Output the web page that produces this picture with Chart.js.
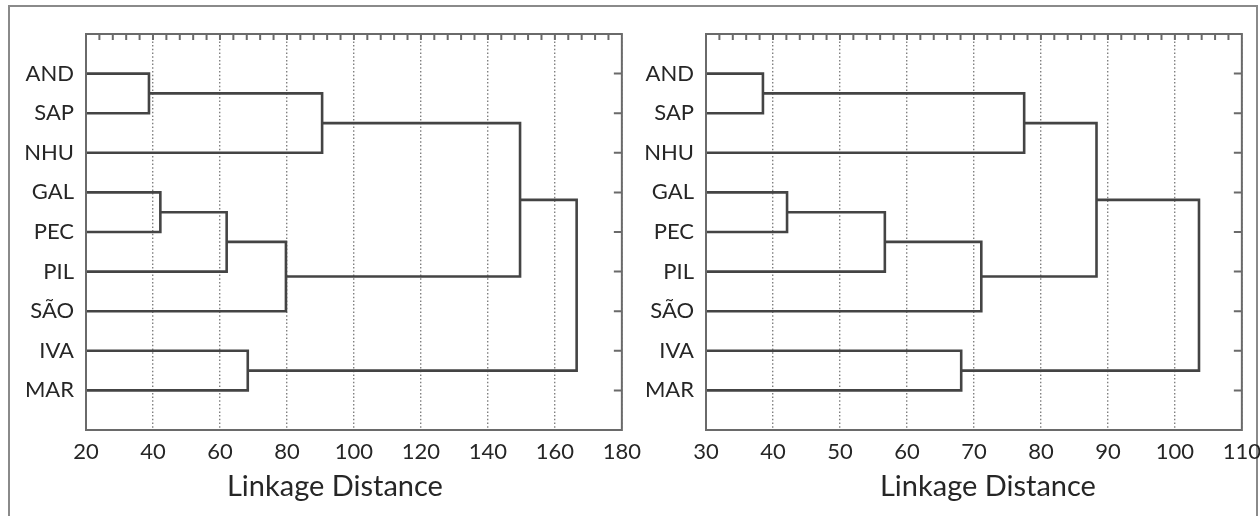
<!DOCTYPE html>
<html>
<head>
<meta charset="utf-8">
<script src="https://cdn.jsdelivr.net/npm/chart.js@4.4.1/dist/chart.umd.min.js"></script>
<style>
  html, body { margin: 0; padding: 0; background: #fff; }
  body { width: 1260px; height: 516px; position: relative; overflow: hidden; }
  #frame { position: absolute; left: 8px; top: 5px; width: 1250px; height: 520px; border: 2px solid #8a8a8a; box-sizing: border-box; }
  .panel { position: absolute; top: 0; width: 650px; height: 516px; }
  #leftPanel { left: 0; }
  #rightPanel { left: 620px; }
</style>
</head>
<body>
<div id="frame"></div>
<div class="panel" id="leftPanel"><canvas id="leftChart" width="650" height="516"></canvas></div>
<div class="panel" id="rightPanel"><canvas id="rightChart" width="650" height="516"></canvas></div>
<script>
// leaves, top to bottom
const leafNames = ['AND', 'SAP', 'NHU', 'GAL', 'PEC', 'PIL', 'SÃO', 'IVA', 'MAR'];

// merge order: leaf ids 0-8, each merge gets the next id (9, 10, ...)
const mergePairs = [[0, 1], [9, 2], [3, 4], [11, 5], [12, 6], [7, 8], [10, 13], [15, 14]];

// linkage distance of each merge
const heightsLeft = [38.8, 90.5, 42.2, 62, 79.7, 68.3, 149.6, 166.5];
const heightsRight = [38.5, 77.5, 42.1, 56.7, 71.1, 68.1, 88.3, 103.6];

// x tick labels
const ticksLeft = [20, 40, 60, 80, 100, 120, 140, 160, 180];
const ticksRight = [30, 40, 50, 60, 70, 80, 90, 100, 110];

const axisTitle = 'Linkage Distance';

const FONT = "'Gill Sans', Lato, sans-serif";
const TEXT = '#262626';
const LINE = '#444444';
const AXIS = '#6a6a6a';

// build the U-shaped links of the dendrogram
function dendroSets(heights, xmin) {
  const nodes = leafNames.map((n, i) => ({ x: xmin, y: i + 1 }));
  return mergePairs.map(([a, b], k) => {
    const h = heights[k];
    const A = nodes[a], B = nodes[b];
    nodes.push({ x: h, y: (A.y + B.y) / 2 });
    return {
      data: [{ x: A.x, y: A.y }, { x: h, y: A.y }, { x: h, y: B.y }, { x: B.x, y: B.y }],
      showLine: true,
      borderColor: LINE,
      borderWidth: 2.6,
      pointRadius: 0,
      tension: 0
    };
  });
}

// plot frame with inward ticks on top and right, plus the axis title
const framePlugin = {
  id: 'frame',
  afterDatasetsDraw(chart, args, opts) {
    const { ctx, chartArea: { left, right, top, bottom }, scales: { x, y } } = chart;
    ctx.save();
    ctx.strokeStyle = AXIS;
    ctx.lineWidth = 2;
    ctx.beginPath();
    const n = Math.round((x.max - x.min) / opts.minor);
    for (let i = 1; i < n; i++) {
      const px = x.getPixelForValue(x.min + i * opts.minor);
      ctx.moveTo(px, top);
      ctx.lineTo(px, top + 6);
    }
    leafNames.forEach((name, i) => {
      const py = y.getPixelForValue(i + 1);
      ctx.moveTo(right - 8, py);
      ctx.lineTo(right, py);
    });
    ctx.stroke();
    ctx.strokeRect(left, top, right - left, bottom - top);

    // axis title, slightly off-centre like the original
    ctx.fillStyle = TEXT;
    ctx.font = '29px ' + FONT;
    ctx.textAlign = 'center';
    ctx.textBaseline = 'middle';
    ctx.fillText(axisTitle, (left + right) / 2 + opts.titleShift, bottom + 57);
    ctx.restore();
  }
};

function makeChart(id, heights, ticks, minor, titleShift) {
  const xmin = ticks[0], xmax = ticks[ticks.length - 1];
  return new Chart(document.getElementById(id), {
    type: 'scatter',
    data: { datasets: dendroSets(heights, xmin) },
    plugins: [framePlugin],
    options: {
      responsive: false,
      animation: false,
      layout: { padding: { left: 6, right: 0, top: 34, bottom: 0 } },
      plugins: {
        legend: { display: false },
        tooltip: { enabled: false },
        frame: { minor: minor, titleShift: titleShift }
      },
      scales: {
        x: {
          type: 'linear',
          min: xmin,
          max: xmax,
          afterBuildTicks: function(scale) {
            scale.ticks = ticks.map(v => ({ value: v }));
          },
          afterFit: function(scale) { scale.height = 86; },
          ticks: { color: TEXT, padding: 9, font: { family: FONT, size: 22 } },
          grid: { color: '#808080', lineWidth: 1.4, drawTicks: false },
          border: { display: false, dash: [1.5, 2.2] },
          title: { display: false }
        },
        y: {
          type: 'linear',
          reverse: true,
          min: 0,
          max: 10,
          afterBuildTicks: function(scale) {
            scale.ticks = leafNames.map((n, i) => ({ value: i + 1 }));
          },
          afterFit: function(scale) { scale.width = 80; },
          ticks: {
            color: TEXT,
            padding: 12,
            font: { family: FONT, size: 22 },
            callback: function(value) { return leafNames[value - 1]; }
          },
          grid: { display: false, drawTicks: false },
          border: { display: false }
        }
      }
    }
  });
}

makeChart('leftChart', heightsLeft, ticksLeft, 4, -19);
makeChart('rightChart', heightsRight, ticksRight, 2, 14);
</script>
</body>
</html>
